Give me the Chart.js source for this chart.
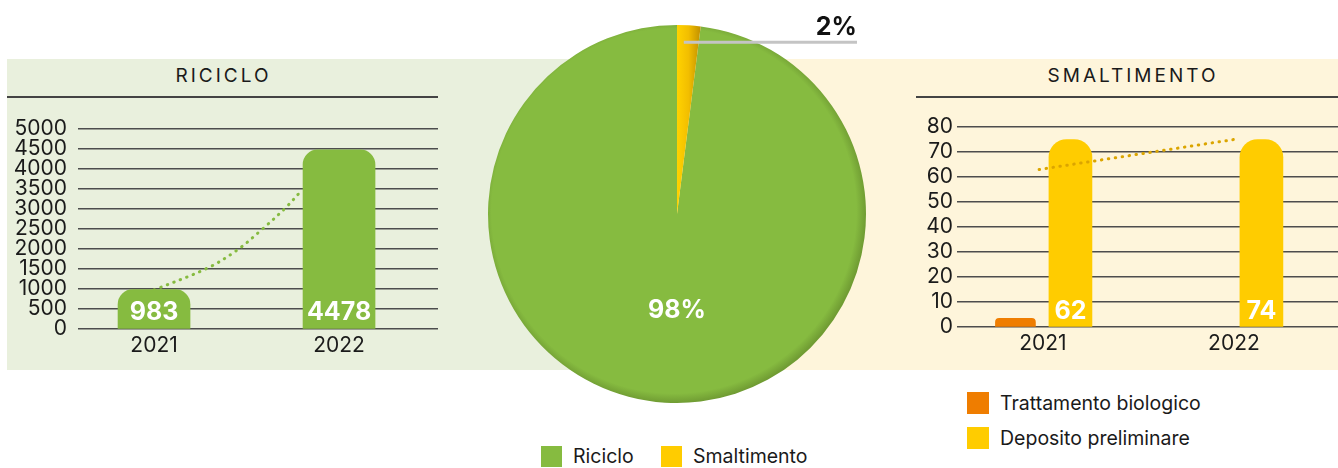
<!DOCTYPE html>
<html lang="it">
<head>
<meta charset="utf-8">
<title>Riciclo e smaltimento</title>
<script src="https://cdn.jsdelivr.net/npm/chart.js@4.4.1/dist/chart.umd.min.js"></script>
<style>
  body { margin: 0; width: 1338px; height: 468px; position: relative; overflow: hidden; background: #fff;
         font-family: Inter, "Liberation Sans", sans-serif; color: #1a1a1a; }
  .panel { position: absolute; top: 59px; height: 311px; }
  #pnlRic { left: 7px; width: 670px; background: #e9f0dd; }
  #pnlSma { left: 677px; width: 661px; background: #fef5db; }
  .title { position: absolute; top: 64px; line-height: 24px; font-size: 19px; letter-spacing: 3px; text-align: center; }
  .rule { position: absolute; top: 96px; height: 2px; background: #444; }
  canvas { position: absolute; }
  .leg { position: absolute; display: flex; align-items: center; font-size: 19.5px; line-height: 22px; }
  .leg i { display: inline-block; width: 21px; height: 21px; margin-right: 11px; }
</style>
</head>
<body>
<div class="panel" id="pnlRic"></div>
<div class="panel" id="pnlSma"></div>

<div class="title" style="left:8px;width:431px">RICICLO</div>
<div class="rule" style="left:7px;width:431px"></div>
<div class="title" style="left:922px;width:422px">SMALTIMENTO</div>
<div class="rule" style="left:916px;width:422px"></div>

<canvas id="cRic" width="438" height="270" style="left:0;top:100px"></canvas>
<canvas id="cSma" width="468" height="270" style="left:870px;top:100px"></canvas>
<canvas id="cPie" width="400" height="420" style="left:480px;top:0"></canvas>

<div class="leg" style="left:541px;top:445px"><i style="background:#86bb40"></i>Riciclo</div>
<div class="leg" style="left:661px;top:445px"><i style="background:#ffcc00"></i>Smaltimento</div>
<div class="leg" style="left:967px;top:392px"><i style="background:#ef7d00;width:22px;height:22px"></i>Trattamento biologico</div>
<div class="leg" style="left:967px;top:427px"><i style="background:#ffcc00;width:22px;height:22px"></i>Deposito preliminare</div>

<script>
// dati
const years = ['2021', '2022'];
const riciclo = [983, 4478];
const ricicloTrendX = [0, 0.29, 0.45, 0.58, 0.71, 0.8];
const ricicloTrendY = [975, 1525, 1975, 2475, 3025, 3475];

const trattamento = [3.5, null];
const depositoBars = [75, 75];      // altezza disegnata
const depositoLabels = ['62', '74']; // valori scritti nelle barre
const smaltTrendX = [-0.02, 1.0];
const smaltTrendY = [63, 75];

const pieLabels = ['Riciclo', 'Smaltimento'];
const pieShares = [98, 2];

const GREEN = '#86bb40', YELLOW = '#ffcc00', ORANGE = '#ef7d00';
const FONT = 'Inter, "Liberation Sans", sans-serif';

Chart.defaults.font.family = FONT;
Chart.defaults.color = '#1a1a1a';
Chart.defaults.animation = false;
Chart.defaults.plugins.legend.display = false;
Chart.defaults.plugins.tooltip.enabled = false;

// numeri bianchi alla base delle barre
const barLabels = {
  id: 'barLabels',
  afterDatasetsDraw(chart, args, opts) {
    const ctx = chart.ctx;
    const meta = chart.getDatasetMeta(opts.dataset);
    ctx.save();
    ctx.font = 'bold 25px ' + FONT;
    ctx.fillStyle = '#fff';
    ctx.textAlign = 'center';
    ctx.textBaseline = 'middle';
    meta.data.forEach((bar, i) => ctx.fillText(opts.labels[i], bar.x, bar.base - opts.lift));
    ctx.restore();
  }
};

const yearAxis = (min, max, height) => ({
  type: 'linear', min, max, offset: false,
  grid: { display: false, drawTicks: false },
  border: { display: false },
  afterFit: s => { s.height = height; },
  afterBuildTicks: s => { s.ticks = years.map((_, i) => ({ value: i })); },
  ticks: { padding: 4, font: { size: 21 }, callback: v => years[v] }
});

const valueAxis = (max, step, width, pad) => ({
  min: 0, max,
  grid: { color: '#4d4d4d', lineWidth: 1.4, drawTicks: false },
  border: { display: false },
  afterFit: s => { s.width = width; },
  ticks: { stepSize: step, padding: pad, autoSkip: false, font: { size: 21 }, callback: v => String(v) }
});

const dotted = { borderWidth: 3, borderDash: [0.5, 6.5], borderCapStyle: 'round', pointRadius: 0, fill: false };

new Chart(document.getElementById('cRic'), {
  type: 'bar',
  data: {
    datasets: [
      { label: 'Riciclo', data: riciclo.map((v, i) => ({ x: i, y: v })), backgroundColor: GREEN,
        barThickness: 72, borderRadius: 15, borderSkipped: 'bottom', order: 1 },
      { type: 'line', data: ricicloTrendX.map((x, i) => ({ x, y: ricicloTrendY[i] })),
        borderColor: GREEN, tension: 0.35, order: 2, ...dotted }
    ]
  },
  options: {
    responsive: false,
    layout: { padding: { top: 29, bottom: 0, left: 0, right: 0 } },
    scales: { x: yearAxis(-0.411, 1.535, 41), y: valueAxis(5000, 500, 78, 11) },
    plugins: { barLabels: { dataset: 0, labels: riciclo.map(String), lift: 16 } }
  },
  plugins: [barLabels]
});

new Chart(document.getElementById('cSma'), {
  type: 'bar',
  data: {
    datasets: [
      { label: 'Trattamento biologico', data: trattamento.map((v, i) => ({ x: i, y: v })), backgroundColor: ORANGE,
        barThickness: 55, maxBarThickness: 40, borderRadius: 20, borderSkipped: 'bottom', order: 1 },
      { label: 'Deposito preliminare', data: depositoBars.map((v, i) => ({ x: i, y: v })), backgroundColor: YELLOW,
        barThickness: 55, maxBarThickness: 43, borderRadius: 18, borderSkipped: 'bottom', order: 1 },
      { type: 'line', data: smaltTrendX.map((x, i) => ({ x, y: smaltTrendY[i] })),
        borderColor: '#dba500', order: 0, ...dotted }
    ]
  },
  options: {
    responsive: false,
    layout: { padding: { top: 27, bottom: 0, left: 0, right: 0 } },
    scales: { x: yearAxis(-0.45, 1.545, 43), y: valueAxis(80, 10, 87, 4) },
    plugins: { barLabels: { dataset: 1, labels: depositoLabels, lift: 15 } }
  },
  plugins: [barLabels]
});

// torta: verde con bordo sfumato, spicchio giallo con sfumatura
function pieFill(c) {
  const area = c.chart.chartArea;
  if (!area) return c.dataIndex === 0 ? GREEN : YELLOW;
  const ctx = c.chart.ctx;
  const cx = (area.left + area.right) / 2, cy = (area.top + area.bottom) / 2;
  const r = Math.min(area.width, area.height) / 2;
  if (c.dataIndex === 0) {
    const g = ctx.createRadialGradient(cx - 3, cy - 3, 0, cx - 3, cy - 3, r + 3);
    g.addColorStop(0, GREEN);
    g.addColorStop(0.95, GREEN);
    g.addColorStop(1, '#709c33');
    return g;
  }
  const g = ctx.createLinearGradient(cx, 0, cx + 23, 0);
  g.addColorStop(0, '#ffd200');
  g.addColorStop(0.5, '#f2be00');
  g.addColorStop(1, '#c49300');
  return g;
}

const pieText = {
  id: 'pieText',
  afterDatasetsDraw(chart) {
    const ctx = chart.ctx;
    const arcs = chart.getDatasetMeta(0).data;
    const big = arcs[0], small = arcs[1];
    const R = big.outerRadius;
    ctx.save();
    ctx.font = 'bold 25px ' + FONT;
    ctx.textAlign = 'center';
    ctx.textBaseline = 'middle';
    ctx.fillStyle = '#fff';
    ctx.fillText(pieShares[0] + '%', big.x, big.y + R * 0.51);

    const mid = (small.startAngle + small.endAngle) / 2;
    const sx = small.x + Math.cos(mid) * R * 0.91;
    const sy = small.y + Math.sin(mid) * R * 0.91;
    const ex = small.x + 180;
    ctx.strokeStyle = '#c4c4c4';
    ctx.lineWidth = 3;
    ctx.beginPath();
    ctx.moveTo(sx - 4, sy);
    ctx.lineTo(ex, sy);
    ctx.stroke();
    ctx.fillStyle = '#111';
    ctx.textAlign = 'right';
    ctx.textBaseline = 'alphabetic';
    ctx.fillText(pieShares[1] + '%', ex, sy - 7);
    ctx.restore();
  }
};

new Chart(document.getElementById('cPie'), {
  type: 'pie',
  data: { labels: pieLabels, datasets: [{ data: pieShares, backgroundColor: pieFill, borderWidth: 0 }] },
  options: {
    responsive: false,
    rotation: 7.2,
    layout: { padding: { left: 8, right: 14, top: 25, bottom: 17 } }
  },
  plugins: [pieText]
});
</script>
</body>
</html>
